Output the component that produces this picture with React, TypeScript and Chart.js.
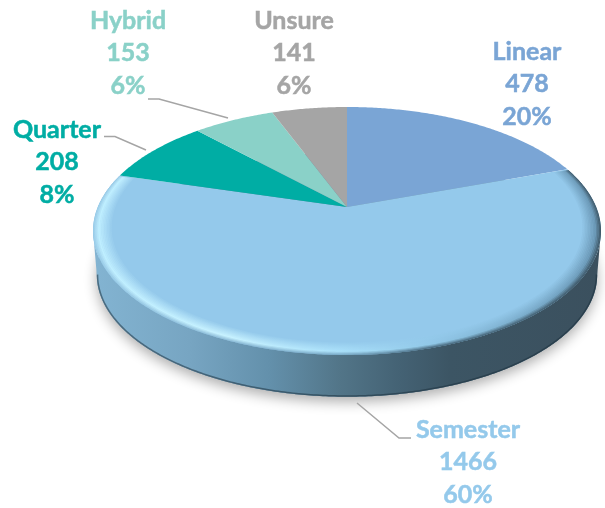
import React, { useEffect, useRef } from "react";
import { Chart, registerables } from "chart.js";

Chart.register(...registerables);

const categories = ["Linear", "Semester", "Quarter", "Hybrid", "Unsure"];
const counts = [478, 1466, 208, 153, 141];
const percents = ["20%", "60%", "8%", "6%", "6%"];
const sliceColors = ["#7AA5D5", "#94C9EB", "#00ADA4", "#8AD1C8", "#A5A5A5"];

// Layout only: centre of each three-line label, and leader-line paths.
const labelCentres = [
  [527, 84],
  [468, 462],
  [57, 162],
  [128, 53],
  [294, 53],
];
const leaders = [
  [[104, 136.5], [115, 136.5], [146, 150]],
  [[148, 99], [159, 99], [228, 118]],
  [[357, 403], [399, 438], [411, 438]],
];

// Perspective of the disc
const CX = 347;
const CY = 207;
const A = 249.2;
const B = 119.35;
const K = 0.1935;
const DEPTH_SCALE = 0.985;
const DEPTH_SHIFT = 44;
const FRONT_START = Math.asin(K);
const FRONT_END = Math.PI - FRONT_START;

function topPoint(t: number, s = 1): [number, number] {
  const u = Math.cos(t) * s;
  const v = Math.sin(t) * s;
  const d = 1 - K * v;
  return [CX + (A * u) / d, CY + (B * v) / d];
}
function lowPoint(t: number): [number, number] {
  const u = Math.cos(t);
  const v = Math.sin(t);
  const d = 1 - K * v;
  return [CX + (DEPTH_SCALE * A * u) / d, CY + DEPTH_SHIFT + (DEPTH_SCALE * B * v) / d];
}

function trace(ctx: CanvasRenderingContext2D, fn: (t: number) => [number, number], from: number, to: number, move: boolean) {
  const n = Math.max(4, Math.ceil(Math.abs(to - from) / 0.01));
  for (let i = 0; i <= n; i++) {
    const p = fn(from + ((to - from) * i) / n);
    if (i === 0 && move) ctx.moveTo(p[0], p[1]);
    else ctx.lineTo(p[0], p[1]);
  }
}

type RGB = [number, number, number];
const mix = (a: RGB, b: RGB, t: number) =>
  `rgb(${a.map((c, i) => Math.round(c + (b[i] - c) * t)).join(",")})`;

const FACE: RGB = [148, 201, 235];
// rim colour stops, along x, from outermost to innermost bevel ring
const RIM_OUT: [number, RGB][] = [
  [92, [150, 200, 230]],
  [230, [130, 178, 208]],
  [340, [112, 160, 190]],
  [430, [60, 90, 108]],
  [600, [58, 82, 96]],
];
const RIM_MID: [number, RGB][] = [
  [92, [190, 238, 255]],
  [250, [200, 242, 255]],
  [340, [170, 225, 250]],
  [430, [145, 200, 232]],
  [600, [105, 150, 180]],
];

const disc3d = {
  id: "disc3d",
  beforeDatasetDraw(chart: any) {
    const ctx: CanvasRenderingContext2D = chart.ctx;
    const arcs = chart.getDatasetMeta(0).data;
    ctx.save();

    // soft shadow under the disc
    ctx.save();
    ctx.beginPath();
    trace(ctx, lowPoint, 0, Math.PI * 2, true);
    ctx.closePath();
    ctx.shadowColor = "rgba(0,0,0,0.32)";
    ctx.shadowBlur = 13;
    ctx.shadowOffsetY = 5;
    ctx.fillStyle = "#6d8fa5";
    ctx.fill();
    ctx.restore();

    // side wall, for the part of every slice that faces the viewer
    arcs.forEach((arc: any) => {
      const from = Math.max(arc.startAngle, FRONT_START);
      const to = Math.min(arc.endAngle, FRONT_END);
      if (to <= from) return;
      const g = ctx.createLinearGradient(92, 0, 600, 0);
      const stop = (x: number, c: string) => g.addColorStop((x - 92) / 508, c);
      stop(92, "#83B4D2");
      stop(190, "#77A5C2");
      stop(270, "#6390AB");
      stop(340, "#527588");
      stop(400, "#446274");
      stop(450, "#3C5564");
      stop(600, "#3B505E");
      ctx.beginPath();
      trace(ctx, (t) => topPoint(t), from, to, true);
      trace(ctx, lowPoint, to, from, false);
      ctx.closePath();
      ctx.fillStyle = g;
      ctx.fill();
      ctx.save();
      ctx.clip();
      ctx.beginPath();
      trace(ctx, lowPoint, from, to, true);
      ctx.strokeStyle = "rgba(30,50,62,0.55)";
      ctx.lineWidth = 3;
      ctx.stroke();
      ctx.restore();
    });

    // top faces, angles taken from the library's arc elements
    arcs.forEach((arc: any) => {
      ctx.beginPath();
      ctx.moveTo(CX, CY);
      trace(ctx, (t) => topPoint(t), arc.startAngle, arc.endAngle, false);
      ctx.closePath();
      ctx.fillStyle = arc.options.backgroundColor;
      ctx.fill();
    });

    // bevel on the largest slice's rim
    const big = arcs[1];
    const N = 14;
    ctx.save();
    ctx.beginPath();
    ctx.moveTo(CX, CY);
    trace(ctx, (t) => topPoint(t), big.startAngle, big.endAngle, false);
    ctx.closePath();
    ctx.clip();
    const pad = 0.01;
    for (let i = 0; i < N; i++) {
      const f = i / (N - 1);
      const s = 1 - 0.075 * f;
      const g = ctx.createLinearGradient(92, 0, 600, 0);
      RIM_OUT.forEach(([x, c], j) => {
        const mid = RIM_MID[j][1];
        const col = f < 0.3 ? mix(c, mid, f / 0.3) : mix(mid, FACE, (f - 0.3) / 0.7);
        g.addColorStop((x - 92) / 508, col);
      });
      ctx.beginPath();
      trace(ctx, (t) => topPoint(t, s), big.startAngle + pad, big.endAngle - pad, true);
      ctx.strokeStyle = g;
      ctx.lineWidth = 2;
      ctx.stroke();
    }
    ctx.restore();

    ctx.restore();
    return false;
  },
  afterDatasetsDraw(chart: any) {
    const ctx: CanvasRenderingContext2D = chart.ctx;
    ctx.save();
    ctx.strokeStyle = "#A5A5A5";
    ctx.lineWidth = 1.5;
    leaders.forEach((path) => {
      ctx.beginPath();
      path.forEach(([x, y], i) => (i ? ctx.lineTo(x, y) : ctx.moveTo(x, y)));
      ctx.stroke();
    });
    ctx.font = 'bold 25px Lato, "Open Sans", sans-serif';
    ctx.textAlign = "center";
    ctx.textBaseline = "middle";
    ctx.lineWidth = 0.5;
    categories.forEach((name, i) => {
      const [x, y] = labelCentres[i];
      ctx.fillStyle = sliceColors[i];
      ctx.strokeStyle = sliceColors[i];
      [name, String(counts[i]), percents[i]].forEach((line, j) => {
        const ly = y + (j - 1) * 32.5;
        ctx.fillText(line, x, ly);
        ctx.strokeText(line, x, ly);
      });
    });
    ctx.restore();
  },
};

export default function App() {
  const ref = useRef<HTMLCanvasElement>(null);
  useEffect(() => {
    if (!ref.current) return;
    const chart = new Chart(ref.current, {
      type: "pie",
      data: {
        labels: categories,
        datasets: [{ data: counts, backgroundColor: sliceColors, borderWidth: 0 }],
      },
      options: {
        animation: false,
        responsive: false,
        plugins: { legend: { display: false }, tooltip: { enabled: false } },
      },
      plugins: [disc3d],
    } as any);
    return () => chart.destroy();
  }, []);
  return (
    <div style={{ position: "absolute", left: 0, top: 0, width: 605, height: 508, background: "#fff" }}>
      <canvas ref={ref} width={605} height={508} style={{ display: "block" }} />
    </div>
  );
}
